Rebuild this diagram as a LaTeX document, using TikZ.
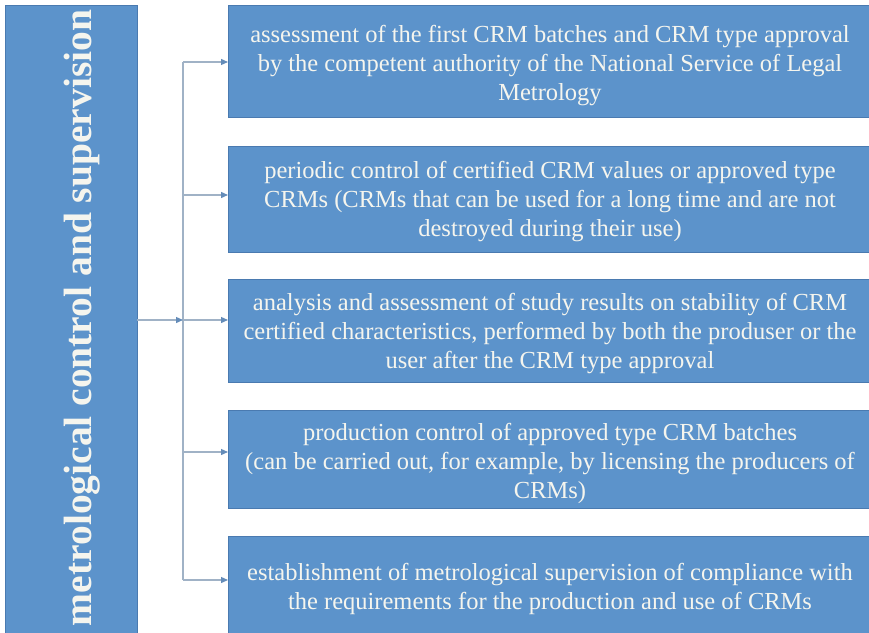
\documentclass[tikz,border=0pt]{standalone}
\usepackage{fontspec}
\setmainfont{Liberation Serif}
\usetikzlibrary{arrows.meta}
\definecolor{boxfill}{RGB}{92,147,203}
\definecolor{boxedge}{RGB}{74,122,176}
\definecolor{wire}{RGB}{160,178,198}
\definecolor{tip}{RGB}{100,140,185}
\definecolor{ink}{RGB}{245,245,238}
\begin{document}
\begin{tikzpicture}[x=1bp,y=-1bp,
  panel/.style={fill=boxfill,draw=boxedge,line width=0.8bp},
  itemtext/.style={text=ink,align=center,font=\fontsize{24.5bp}{29bp}\selectfont},
  wireline/.style={draw=wire,line width=1.3bp},
  arrowline/.style={wireline,-{Triangle[length=7bp,width=6bp,fill=tip,color=tip]}}]
\useasboundingbox (0,0) rectangle (869,633);
% left heading panel
\draw[panel] (5,5) rectangle (137,633);
\node[rotate=90,text=ink,font=\fontsize{39.5bp}{44bp}\bfseries\selectfont] (head) at (82,318) {metrological control and supervision};
% item panels
\draw[panel] (228,5) rectangle (875,117);
\draw[panel] (228,146) rectangle (875,252);
\draw[panel] (228,279) rectangle (875,382);
\draw[panel] (228,410) rectangle (875,508);
\draw[panel] (228,536) rectangle (875,640);
\node[itemtext] (t1) at (550,66) {assessment of the first CRM batches and CRM type approval\\by the competent authority of the National Service of Legal\\Metrology};
\node[itemtext] (t2) at (550,202) {periodic control of certified CRM values or approved type\\CRMs (CRMs that can be used for a long time and are not\\destroyed during their use)};
\node[itemtext] (t3) at (550,334) {analysis and assessment of study results on stability of CRM\\certified characteristics, performed by both the produser or the\\user after the CRM type approval};
\node[itemtext] (t4) at (550,463) {production control of approved type CRM batches\\(can be carried out, for example, by licensing the producers of\\CRMs)};
\node[itemtext] (t5) at (550,589) {establishment of metrological supervision of compliance with\\the requirements for the production and use of CRMs};
% connectors
\coordinate (src) at (137,320);
\coordinate (hub) at (183,320);
\coordinate (b1) at (183,62);
\coordinate (b2) at (183,195);
\coordinate (b3) at (183,320);
\coordinate (b4) at (183,452);
\coordinate (b5) at (183,580);
\coordinate (e1) at (228,62);
\coordinate (e2) at (228,195);
\coordinate (e3) at (228,320);
\coordinate (e4) at (228,452);
\coordinate (e5) at (228,580);
\draw[wireline] (b1) -- (b5);
\draw[arrowline] (src) -- (hub);
\foreach \i in {1,...,5} \draw[arrowline] (b\i) -- (e\i);
\end{tikzpicture}
\end{document}
